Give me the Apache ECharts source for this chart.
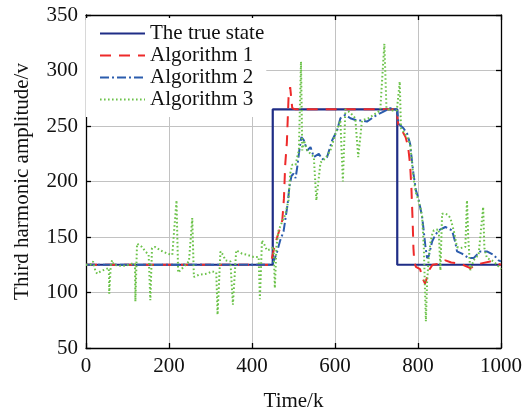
<!DOCTYPE html>
<html>
<head>
<meta charset="utf-8">
<script src="https://cdn.jsdelivr.net/npm/echarts@6/dist/echarts.min.js"></script>
<style>
html,body{margin:0;padding:0;background:#fff;}
#main{width:523px;height:412px;}
</style>
</head>
<body>
<div id="main"></div>
<script>
// ---- data ----
var seriesNames = ['The true state', 'Algorithm 1', 'Algorithm 2', 'Algorithm 3'];
var xTicks = [0, 200, 400, 600, 800, 1000];
var yTicks = [50, 100, 150, 200, 250, 300, 350];

var trueState = [[0,125],[450,125],[450,265],[750,265],[750,125],[1000,125]];

var algorithm1 = [[0,125],[100,125],[200,125],[300,125],[400,125],[442,125],[448,131],[456,144],[465,155],[473,165],[477,185],[480,215],[484,235],[488,275],[492,285],[497,266],[505,265],[600,265],[700,265],[748,265],[753,250],[760,247],[770,240],[776,232],[781,215],[784,195],[787,165],[789,140],[791,128],[795,123],[805,121],[812,112],[817,108],[822,114],[828,121],[835,125],[854,126],[866,129],[880,127],[902,126],[926,122],[950,126],[974,128],[1000,125]];

var algorithm2 = [[0,125],[100,125],[200,125],[300,125],[400,125],[448,125],[452,128],[460,136],[468,147],[476,155],[480,165],[486,180],[490,195],[495,205],[500,207],[505,203],[509,213],[514,228],[519,240],[525,237],[533,228],[541,231],[549,222],[561,225],[569,220],[581,222],[593,237],[605,246],[613,257],[625,260],[637,257],[653,255],[665,255],[677,254],[689,257],[701,260],[717,263],[733,266],[745,265],[750,264],[753,252],[765,248],[774,243],[781,234],[785,220],[789,207],[795,192],[801,185],[810,168],[814,155],[818,141],[822,131],[826,133],[834,146],[842,152],[850,156],[866,159],[882,156],[890,145],[894,137],[906,135],[922,131],[934,131],[950,137],[966,137],[982,134],[994,129],[1000,128]];

var algorithm3 = [[0,125],[10,125],[17,128],[23,119],[27,117],[35,119],[47,121],[55,122],[56,99],[60,126],[63,129],[67,125],[80,124],[95,124],[110,126],[118,126],[119,92],[123,144],[127,145],[135,141],[143,137],[151,134],[155,93],[159,140],[167,141],[179,138],[196,135],[208,134],[218,183],[222,118],[230,121],[240,125],[248,128],[256,167],[260,114],[272,116],[292,117],[304,119],[314,118],[317,80],[324,137],[330,134],[336,129],[348,128],[354,89],[362,138],[376,135],[388,134],[404,132],[416,132],[419,94],[424,147],[430,143],[436,138],[445,139],[452,141],[455,104],[459,142],[464,156],[473,164],[480,170],[488,183],[492,207],[497,215],[505,215],[509,222],[513,228],[518,308],[521,228],[525,237],[533,228],[541,225],[549,222],[555,183],[565,217],[577,221],[589,228],[601,243],[613,255],[619,200],[625,265],[637,262],[649,257],[656,222],[665,255],[681,257],[693,260],[709,264],[719,324],[724,266],[733,264],[749,264],[756,290],[759,248],[765,245],[774,240],[781,234],[786,215],[790,201],[795,190],[801,183],[806,176],[810,168],[814,141],[819,74],[822,110],[826,132],[830,145],[834,152],[838,156],[850,157],[854,120],[858,171],[866,171],[872,170],[878,167],[886,156],[894,141],[902,140],[914,141],[918,183],[921,150],[926,120],[934,129],[946,134],[957,177],[960,140],[966,131],[982,128],[998,122],[1000,121]];

// ---- chart ----
var FONT = 'Liberation Serif';
var TXT = '#111';
var chart = echarts.init(document.getElementById('main'), null, {renderer: 'canvas'});

function axisCommon(extra) {
  var o = {
    type: 'value',
    axisLine: {show: true, onZero: false, lineStyle: {color: '#000', width: 1.3}},
    axisTick: {show: true, inside: true, length: 5, lineStyle: {color: '#000', width: 1.3}},
    splitLine: {show: false},
    axisLabel: {show: false}
  };
  for (var k in extra) o[k] = extra[k];
  return o;
}
function plain(v) { return String(v); }

var option = {
  backgroundColor: '#fff',
  animation: false,
  grid: {left: 86, right: 22, top: 15, bottom: 64, containLabel: false, outerBoundsMode: 'none'},
  legend: {
    orient: 'vertical',
    left: 86, top: 18,
    padding: [5, 2, 7, 13],
    backgroundColor: '#fff',
    itemWidth: 45, itemHeight: 12, itemGap: 1,
    itemStyle: {color: 'rgba(0,0,0,0)', borderWidth: 0, opacity: 0},
    textStyle: {fontFamily: FONT, fontSize: 21, color: TXT, lineHeight: 21},
    data: seriesNames
  },
  xAxis: [
    axisCommon({
      position: 'bottom', min: 0, max: 1000, interval: 200,
      name: 'Time/k', nameLocation: 'middle', nameGap: 43,
      nameTextStyle: {fontFamily: FONT, fontSize: 21, color: TXT},
      axisLabel: {show: true, margin: 8, fontFamily: FONT, fontSize: 21, color: TXT, formatter: plain},
      splitLine: {show: true, lineStyle: {color: '#c2c2c2', width: 1}}
    }),
    axisCommon({position: 'top', min: 0, max: 1000, interval: 200})
  ],
  yAxis: [
    axisCommon({
      position: 'left', min: 50, max: 350, interval: 50,
      name: 'Third harmonic amplitude/v', nameLocation: 'middle', nameGap: 53,
      nameTextStyle: {fontFamily: FONT, fontSize: 21, color: TXT},
      axisLabel: {show: true, margin: 8, fontFamily: FONT, fontSize: 21, color: TXT, formatter: plain},
      splitLine: {show: true, lineStyle: {color: '#c2c2c2', width: 1}}
    }),
    axisCommon({position: 'right', min: 50, max: 350, interval: 50})
  ],
  series: [
    {name: seriesNames[0], type: 'line', data: trueState, symbol: 'none', z: 2,
     lineStyle: {color: '#1f2d86', width: 2.2, type: 'solid'}, itemStyle: {color: '#1f2d86'}},
    {name: seriesNames[1], type: 'line', data: algorithm1, symbol: 'none', z: 3,
     lineStyle: {color: '#ee2a2a', width: 2, type: [11, 8]}, itemStyle: {color: '#ee2a2a'}},
    {name: seriesNames[2], type: 'line', data: algorithm2, symbol: 'none', z: 4,
     lineStyle: {color: '#2b5cad', width: 2, type: [9, 3, 2, 3]}, itemStyle: {color: '#2b5cad'}},
    {name: seriesNames[3], type: 'line', data: algorithm3, symbol: 'none', z: 5,
     lineStyle: {color: '#6cc24a', width: 2, type: [1.6, 2.4]}, itemStyle: {color: '#6cc24a'}}
  ]
};
chart.setOption(option);
</script>
</body>
</html>
